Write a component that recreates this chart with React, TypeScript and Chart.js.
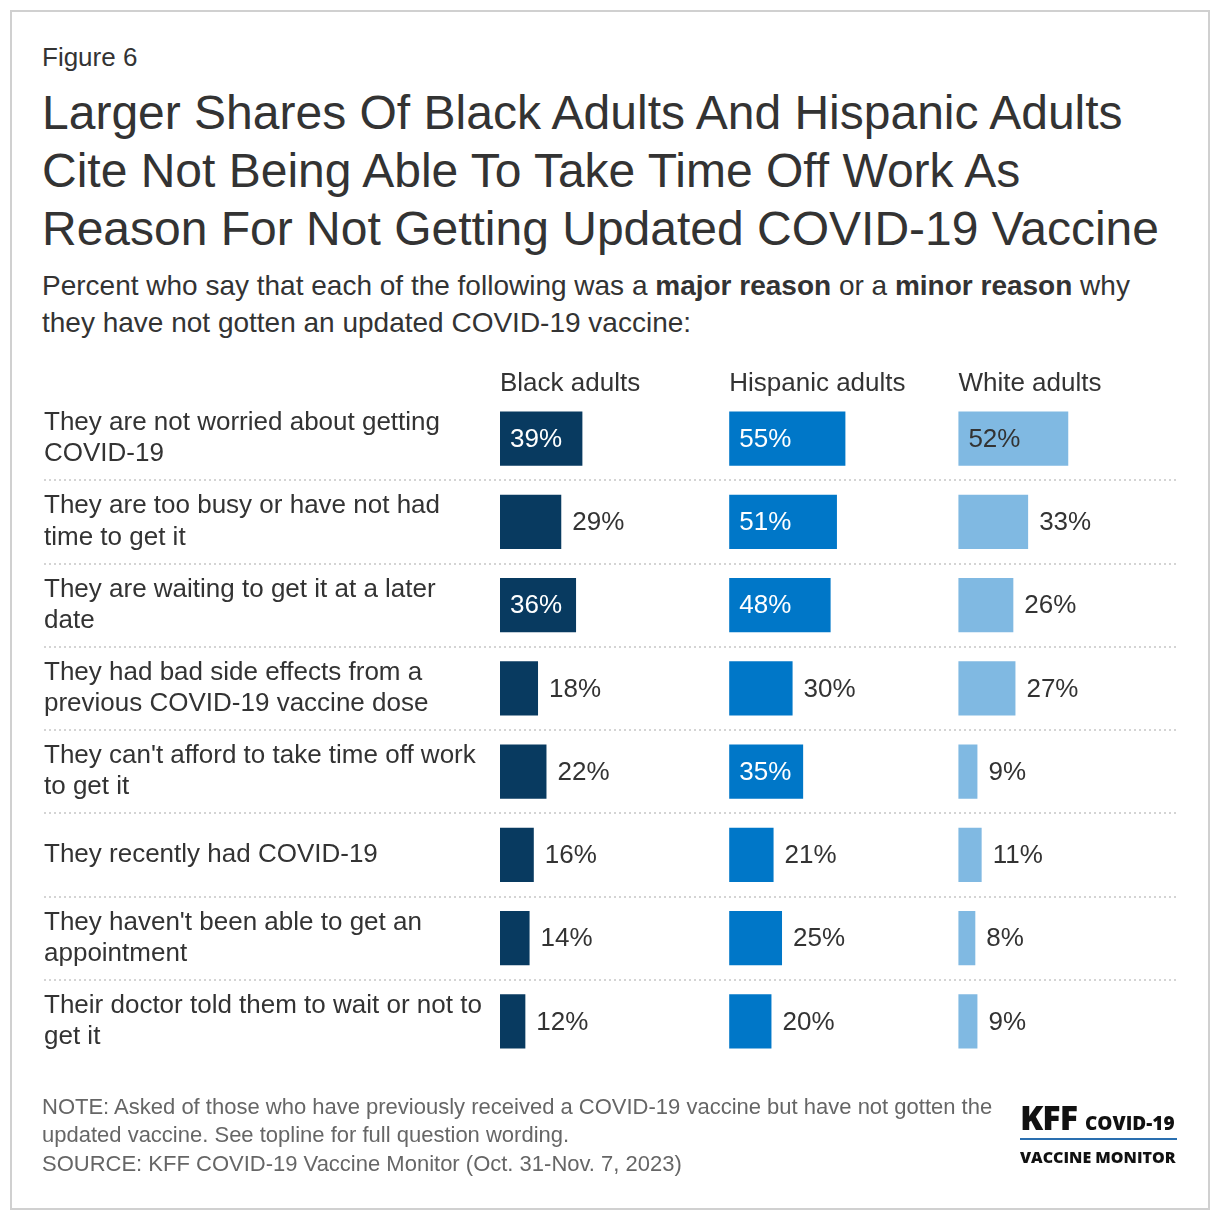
import React, { useEffect, useRef } from "react";
import { Chart, registerables } from "chart.js";

Chart.register(...registerables);

const CATEGORIES: string[][] = [
  ["They are not worried about getting", "COVID-19"],
  ["They are too busy or have not had", "time to get it"],
  ["They are waiting to get it at a later", "date"],
  ["They had bad side effects from a", "previous COVID-19 vaccine dose"],
  ["They can't afford to take time off work", "to get it"],
  ["They recently had COVID-19"],
  ["They haven't been able to get an", "appointment"],
  ["Their doctor told them to wait or not to", "get it"],
];

const GROUPS = ["Black adults", "Hispanic adults", "White adults"];
const BLACK = [39, 29, 36, 18, 22, 16, 14, 12];
const HISPANIC = [55, 51, 48, 30, 35, 21, 25, 20];
const WHITE = [52, 33, 26, 27, 9, 11, 8, 9];
const SERIES = [BLACK, HISPANIC, WHITE];
const COLORS = ["#083a60", "#0077c8", "#80b9e2"];
const INSIDE_TEXT = ["#ffffff", "#ffffff", "#333333"];

const PANEL_STEP = 108.5;
const X_MAX = 320;
const INSIDE_MIN = 35;
const FONT = "'Liberation Sans', Arial, Helvetica, sans-serif";

const TITLE_LINES = [
  "Larger Shares Of Black Adults And Hispanic Adults",
  "Cite Not Being Able To Take Time Off Work As",
  "Reason For Not Getting Updated COVID-19 Vaccine",
];
const NOTE_LINES = [
  "NOTE: Asked of those who have previously received a COVID-19 vaccine but have not gotten the",
  "updated vaccine. See topline for full question wording.",
  "SOURCE: KFF COVID-19 Vaccine Monitor (Oct. 31-Nov. 7, 2023)",
];

const decorPlugin = {
  id: "decor",
  afterDatasetsDraw(chart: any) {
    const ctx = chart.ctx as CanvasRenderingContext2D;
    const xs = chart.scales.x;
    const ys = chart.scales.y;
    const area = chart.chartArea;
    ctx.save();
    // separators
    ctx.strokeStyle = "#d4d4d4";
    ctx.lineWidth = 2;
    ctx.setLineDash([2, 3]);
    for (let i = 0; i < CATEGORIES.length - 1; i++) {
      const yp = Math.round(ys.getPixelForValue(i + 0.5));
      ctx.beginPath();
      ctx.moveTo(0, yp);
      ctx.lineTo(area.right, yp);
      ctx.stroke();
    }
    ctx.setLineDash([]);
    // headers
    ctx.font = `26px ${FONT}`;
    ctx.fillStyle = "#333333";
    ctx.textAlign = "left";
    ctx.textBaseline = "middle";
    GROUPS.forEach((g, gi) => {
      ctx.fillText(g, xs.getPixelForValue(gi * PANEL_STEP), area.top - 13);
    });
    // value labels
    chart.data.datasets.forEach((_ds: any, di: number) => {
      const meta = chart.getDatasetMeta(di);
      meta.data.forEach((bar: any, i: number) => {
        const v = SERIES[di][i];
        const p = bar.getProps(["x", "y", "base"], true);
        const left = Math.min(p.x, p.base);
        const right = Math.max(p.x, p.base);
        if (v >= INSIDE_MIN) {
          ctx.fillStyle = INSIDE_TEXT[di];
          ctx.fillText(`${v}%`, left + 10, p.y + 1);
        } else {
          ctx.fillStyle = "#333333";
          ctx.fillText(`${v}%`, right + 11, p.y + 1);
        }
      });
    });
    ctx.restore();
  },
};

function BarChart() {
  const ref = useRef<HTMLCanvasElement | null>(null);
  useEffect(() => {
    if (!ref.current) return;
    const chart = new Chart(ref.current, {
      type: "bar",
      data: {
        labels: CATEGORIES,
        datasets: SERIES.map((s, si) => ({
          label: GROUPS[si],
          data: s.map((v) => [si * PANEL_STEP, si * PANEL_STEP + v]),
          backgroundColor: COLORS[si],
          borderWidth: 0,
          grouped: false,
          categoryPercentage: 1,
          barPercentage: 0.65,
        })),
      } as any,
      options: {
        indexAxis: "y",
        animation: false,
        responsive: false,
        maintainAspectRatio: false,
        layout: { padding: { top: 37, bottom: 37, left: 0, right: 0 } },
        plugins: {
          legend: { display: false },
          tooltip: { enabled: false },
          title: { display: false },
        },
        scales: {
          x: { display: false, min: 0, max: X_MAX },
          y: {
            grid: { display: false },
            border: { display: false },
            ticks: {
              crossAlign: "far",
              color: "#333333",
              font: { family: FONT, size: 26, lineHeight: 1.2 },
              padding: 0,
            },
            afterFit: (scale: any) => {
              scale.width = 456;
            },
          },
        },
      } as any,
      plugins: [decorPlugin],
    });
    return () => chart.destroy();
  }, []);
  return (
    <canvas
      ref={ref}
      width={1132}
      height={740}
      style={{ position: "absolute", left: 32, top: 348, width: 1132, height: 740 }}
    />
  );
}

export default function App() {
  const text: React.CSSProperties = { position: "absolute", fontFamily: FONT, color: "#333333", whiteSpace: "nowrap" };
  return (
    <div
      style={{
        position: "relative",
        width: 1196,
        height: 1196,
        marginLeft: 2,
        marginTop: 2,
        border: "2px solid #d0d0d0",
        background: "#fff",
      }}
    >
      <div style={{ ...text, left: 30, top: 30, fontSize: 26, lineHeight: "30px" }}>Figure 6</div>
      <div style={{ ...text, left: 30, top: 72, fontSize: 48, lineHeight: "58px" }}>
        {TITLE_LINES.map((l, i) => (
          <div key={i}>{l}</div>
        ))}
      </div>
      <div style={{ ...text, left: 30, top: 254.5, fontSize: 28, lineHeight: "37px" }}>
        <div>
          Percent who say that each of the following was a <b>major reason</b> or a <b>minor reason</b> why
        </div>
        <div>they have not gotten an updated COVID-19 vaccine:</div>
      </div>
      <BarChart />
      <div style={{ ...text, left: 30, top: 1080.5, fontSize: 22, lineHeight: "28.5px", color: "#666666" }}>
        {NOTE_LINES.map((l, i) => (
          <div key={i}>{l}</div>
        ))}
      </div>
      <div style={{ position: "absolute", left: 1008, top: 1090, width: 157, fontFamily: "'Open Sans', 'DejaVu Sans', sans-serif", color: "#111" }}>
        <div style={{ display: "flex", alignItems: "baseline", borderBottom: "2px solid #2a6fb0" }}>
          <span style={{ fontSize: 34, fontWeight: 800, lineHeight: "30px", letterSpacing: -1 }}>KFF</span>
          <span style={{ fontSize: 19, fontWeight: 800, marginLeft: 8, lineHeight: "30px" }}>COVID-19</span>
        </div>
        <div style={{ fontSize: 16, fontWeight: 800, lineHeight: "24px", marginTop: 5, whiteSpace: "nowrap" }}>VACCINE MONITOR</div>
      </div>
    </div>
  );
}
